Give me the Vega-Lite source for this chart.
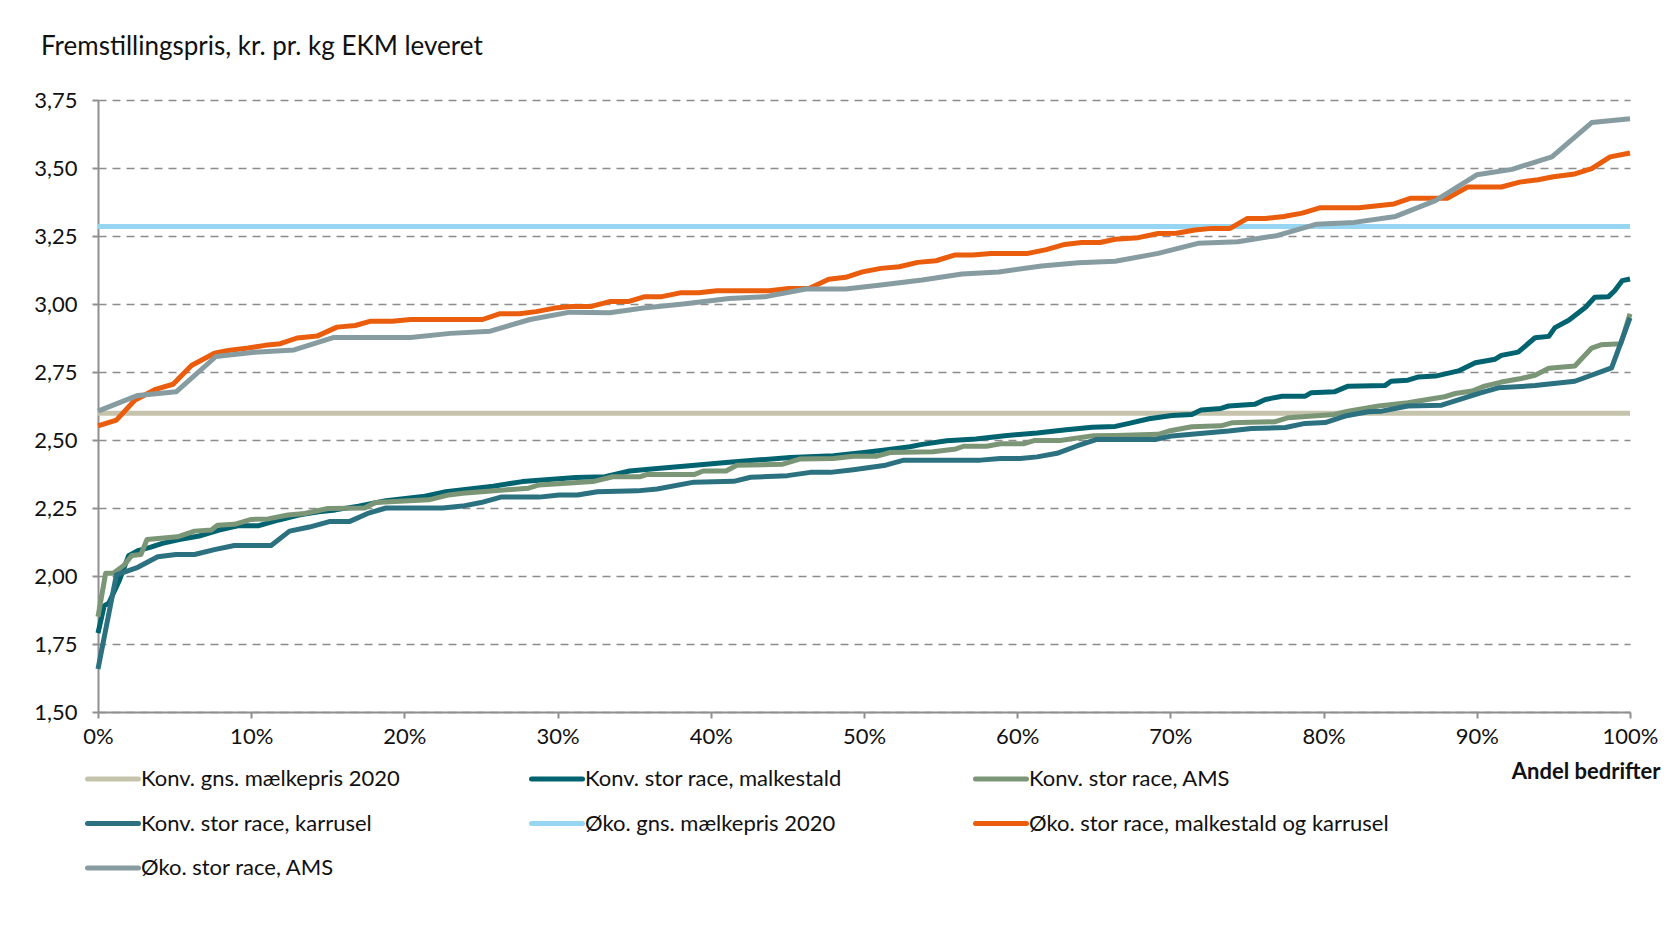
{
  "$schema": "https://vega.github.io/schema/vega-lite/v6.json",
  "autosize": {"type": "none"},
  "padding": {"left": 98, "top": 100, "right": 44, "bottom": 226},
  "width": 1532,
  "height": 612,
  "background": "white",
  "title": {
    "text": "Fremstillingspris, kr. pr. kg EKM leveret",
    "anchor": "start",
    "frame": "group",
    "dx": -57,
    "offset": 29,
    "font": "Lato",
    "fontSize": 26,
    "fontWeight": "normal",
    "color": "#111111"
  },
  "config": {
    "view": {"stroke": null},
    "font": "Lato",
    "axis": {
      "labelFont": "Lato",
      "labelFontSize": 22,
      "labelColor": "#111111",
      "domainColor": "#8f8f8f",
      "domainWidth": 2,
      "tickColor": "#8f8f8f",
      "tickWidth": 2,
      "tickSize": 6
    },
    "legend": {
      "labelFont": "Lato",
      "labelFontSize": 22,
      "labelColor": "#111111",
      "labelLimit": 600
    }
  },
  "data": {
    "values": [
      {"s": "Konv. gns. mælkepris 2020", "x": 0, "y": 2.598},
      {"s": "Konv. gns. mælkepris 2020", "x": 100, "y": 2.598},

      {"s": "Konv. stor race, malkestald", "x": 0, "y": 1.79},
      {"s": "Konv. stor race, malkestald", "x": 0.4, "y": 1.89},
      {"s": "Konv. stor race, malkestald", "x": 0.7, "y": 1.9},
      {"s": "Konv. stor race, malkestald", "x": 1.4, "y": 1.985},
      {"s": "Konv. stor race, malkestald", "x": 2.0, "y": 2.075},
      {"s": "Konv. stor race, malkestald", "x": 2.6, "y": 2.093},
      {"s": "Konv. stor race, malkestald", "x": 3.4, "y": 2.105},
      {"s": "Konv. stor race, malkestald", "x": 4.2, "y": 2.12},
      {"s": "Konv. stor race, malkestald", "x": 5.3, "y": 2.134},
      {"s": "Konv. stor race, malkestald", "x": 6.6, "y": 2.147},
      {"s": "Konv. stor race, malkestald", "x": 7.9, "y": 2.169},
      {"s": "Konv. stor race, malkestald", "x": 9.2, "y": 2.185},
      {"s": "Konv. stor race, malkestald", "x": 10.5, "y": 2.185},
      {"s": "Konv. stor race, malkestald", "x": 11.8, "y": 2.206},
      {"s": "Konv. stor race, malkestald", "x": 13.1, "y": 2.224},
      {"s": "Konv. stor race, malkestald", "x": 14.4, "y": 2.236},
      {"s": "Konv. stor race, malkestald", "x": 15.5, "y": 2.243},
      {"s": "Konv. stor race, malkestald", "x": 17.0, "y": 2.257},
      {"s": "Konv. stor race, malkestald", "x": 18.8, "y": 2.277},
      {"s": "Konv. stor race, malkestald", "x": 21.2, "y": 2.292},
      {"s": "Konv. stor race, malkestald", "x": 22.7, "y": 2.31},
      {"s": "Konv. stor race, malkestald", "x": 25.8, "y": 2.33},
      {"s": "Konv. stor race, malkestald", "x": 27.7, "y": 2.347},
      {"s": "Konv. stor race, malkestald", "x": 31.2, "y": 2.362},
      {"s": "Konv. stor race, malkestald", "x": 33.1, "y": 2.365},
      {"s": "Konv. stor race, malkestald", "x": 34.7, "y": 2.386},
      {"s": "Konv. stor race, malkestald", "x": 36.5, "y": 2.395},
      {"s": "Konv. stor race, malkestald", "x": 38.6, "y": 2.405},
      {"s": "Konv. stor race, malkestald", "x": 41.0, "y": 2.417},
      {"s": "Konv. stor race, malkestald", "x": 43.2, "y": 2.427},
      {"s": "Konv. stor race, malkestald", "x": 45.2, "y": 2.436},
      {"s": "Konv. stor race, malkestald", "x": 48.0, "y": 2.442},
      {"s": "Konv. stor race, malkestald", "x": 50.0, "y": 2.454},
      {"s": "Konv. stor race, malkestald", "x": 51.5, "y": 2.464},
      {"s": "Konv. stor race, malkestald", "x": 53.0, "y": 2.475},
      {"s": "Konv. stor race, malkestald", "x": 53.7, "y": 2.483},
      {"s": "Konv. stor race, malkestald", "x": 55.4, "y": 2.497},
      {"s": "Konv. stor race, malkestald", "x": 57.3, "y": 2.504},
      {"s": "Konv. stor race, malkestald", "x": 59.2, "y": 2.516},
      {"s": "Konv. stor race, malkestald", "x": 61.3, "y": 2.526},
      {"s": "Konv. stor race, malkestald", "x": 63.2, "y": 2.538},
      {"s": "Konv. stor race, malkestald", "x": 64.9, "y": 2.547},
      {"s": "Konv. stor race, malkestald", "x": 66.4, "y": 2.55},
      {"s": "Konv. stor race, malkestald", "x": 67.3, "y": 2.561},
      {"s": "Konv. stor race, malkestald", "x": 68.6, "y": 2.578},
      {"s": "Konv. stor race, malkestald", "x": 70.1, "y": 2.59},
      {"s": "Konv. stor race, malkestald", "x": 71.4, "y": 2.594},
      {"s": "Konv. stor race, malkestald", "x": 72.0, "y": 2.61},
      {"s": "Konv. stor race, malkestald", "x": 73.3, "y": 2.616},
      {"s": "Konv. stor race, malkestald", "x": 73.8, "y": 2.625},
      {"s": "Konv. stor race, malkestald", "x": 75.5, "y": 2.631},
      {"s": "Konv. stor race, malkestald", "x": 76.2, "y": 2.649},
      {"s": "Konv. stor race, malkestald", "x": 77.3, "y": 2.661},
      {"s": "Konv. stor race, malkestald", "x": 78.8, "y": 2.661},
      {"s": "Konv. stor race, malkestald", "x": 79.2, "y": 2.674},
      {"s": "Konv. stor race, malkestald", "x": 80.7, "y": 2.677},
      {"s": "Konv. stor race, malkestald", "x": 81.6, "y": 2.698},
      {"s": "Konv. stor race, malkestald", "x": 84.0, "y": 2.7},
      {"s": "Konv. stor race, malkestald", "x": 84.4, "y": 2.716},
      {"s": "Konv. stor race, malkestald", "x": 85.5, "y": 2.72},
      {"s": "Konv. stor race, malkestald", "x": 86.2, "y": 2.732},
      {"s": "Konv. stor race, malkestald", "x": 87.3, "y": 2.735},
      {"s": "Konv. stor race, malkestald", "x": 88.8, "y": 2.754},
      {"s": "Konv. stor race, malkestald", "x": 89.9, "y": 2.784},
      {"s": "Konv. stor race, malkestald", "x": 91.2, "y": 2.797},
      {"s": "Konv. stor race, malkestald", "x": 91.6, "y": 2.811},
      {"s": "Konv. stor race, malkestald", "x": 92.7, "y": 2.823},
      {"s": "Konv. stor race, malkestald", "x": 93.8, "y": 2.876},
      {"s": "Konv. stor race, malkestald", "x": 94.7, "y": 2.881},
      {"s": "Konv. stor race, malkestald", "x": 95.1, "y": 2.913},
      {"s": "Konv. stor race, malkestald", "x": 96.0, "y": 2.94},
      {"s": "Konv. stor race, malkestald", "x": 97.1, "y": 2.988},
      {"s": "Konv. stor race, malkestald", "x": 97.7, "y": 3.025},
      {"s": "Konv. stor race, malkestald", "x": 98.6, "y": 3.027},
      {"s": "Konv. stor race, malkestald", "x": 99.0, "y": 3.049},
      {"s": "Konv. stor race, malkestald", "x": 99.5, "y": 3.086},
      {"s": "Konv. stor race, malkestald", "x": 100, "y": 3.092},

      {"s": "Konv. stor race, AMS", "x": 0, "y": 1.85},
      {"s": "Konv. stor race, AMS", "x": 0.5, "y": 2.01},
      {"s": "Konv. stor race, AMS", "x": 1.0, "y": 2.01},
      {"s": "Konv. stor race, AMS", "x": 1.7, "y": 2.04},
      {"s": "Konv. stor race, AMS", "x": 2.2, "y": 2.075},
      {"s": "Konv. stor race, AMS", "x": 2.8, "y": 2.079},
      {"s": "Konv. stor race, AMS", "x": 3.2, "y": 2.134},
      {"s": "Konv. stor race, AMS", "x": 5.2, "y": 2.144},
      {"s": "Konv. stor race, AMS", "x": 6.3, "y": 2.165},
      {"s": "Konv. stor race, AMS", "x": 7.4, "y": 2.169},
      {"s": "Konv. stor race, AMS", "x": 7.8, "y": 2.187},
      {"s": "Konv. stor race, AMS", "x": 8.9, "y": 2.19},
      {"s": "Konv. stor race, AMS", "x": 10.0, "y": 2.208},
      {"s": "Konv. stor race, AMS", "x": 11.1, "y": 2.21},
      {"s": "Konv. stor race, AMS", "x": 12.4, "y": 2.224},
      {"s": "Konv. stor race, AMS", "x": 13.5, "y": 2.23},
      {"s": "Konv. stor race, AMS", "x": 15.0, "y": 2.248},
      {"s": "Konv. stor race, AMS", "x": 17.4, "y": 2.25},
      {"s": "Konv. stor race, AMS", "x": 18.1, "y": 2.27},
      {"s": "Konv. stor race, AMS", "x": 21.6, "y": 2.28},
      {"s": "Konv. stor race, AMS", "x": 22.9, "y": 2.298},
      {"s": "Konv. stor race, AMS", "x": 23.8, "y": 2.304},
      {"s": "Konv. stor race, AMS", "x": 28.1, "y": 2.323},
      {"s": "Konv. stor race, AMS", "x": 28.8, "y": 2.335},
      {"s": "Konv. stor race, AMS", "x": 32.3, "y": 2.347},
      {"s": "Konv. stor race, AMS", "x": 33.6, "y": 2.365},
      {"s": "Konv. stor race, AMS", "x": 35.4, "y": 2.365},
      {"s": "Konv. stor race, AMS", "x": 35.8, "y": 2.373},
      {"s": "Konv. stor race, AMS", "x": 38.9, "y": 2.373},
      {"s": "Konv. stor race, AMS", "x": 39.5, "y": 2.386},
      {"s": "Konv. stor race, AMS", "x": 41.0, "y": 2.386},
      {"s": "Konv. stor race, AMS", "x": 41.7, "y": 2.407},
      {"s": "Konv. stor race, AMS", "x": 44.7, "y": 2.411},
      {"s": "Konv. stor race, AMS", "x": 45.8, "y": 2.43},
      {"s": "Konv. stor race, AMS", "x": 48.0, "y": 2.432},
      {"s": "Konv. stor race, AMS", "x": 49.3, "y": 2.44},
      {"s": "Konv. stor race, AMS", "x": 50.8, "y": 2.44},
      {"s": "Konv. stor race, AMS", "x": 51.7, "y": 2.454},
      {"s": "Konv. stor race, AMS", "x": 54.5, "y": 2.457},
      {"s": "Konv. stor race, AMS", "x": 56.0, "y": 2.467},
      {"s": "Konv. stor race, AMS", "x": 56.5, "y": 2.477},
      {"s": "Konv. stor race, AMS", "x": 58.0, "y": 2.477},
      {"s": "Konv. stor race, AMS", "x": 58.9, "y": 2.486},
      {"s": "Konv. stor race, AMS", "x": 60.4, "y": 2.486},
      {"s": "Konv. stor race, AMS", "x": 61.1, "y": 2.498},
      {"s": "Konv. stor race, AMS", "x": 62.8, "y": 2.498},
      {"s": "Konv. stor race, AMS", "x": 65.0, "y": 2.516},
      {"s": "Konv. stor race, AMS", "x": 66.4, "y": 2.517},
      {"s": "Konv. stor race, AMS", "x": 69.2, "y": 2.521},
      {"s": "Konv. stor race, AMS", "x": 69.9, "y": 2.533},
      {"s": "Konv. stor race, AMS", "x": 71.4, "y": 2.549},
      {"s": "Konv. stor race, AMS", "x": 73.3, "y": 2.552},
      {"s": "Konv. stor race, AMS", "x": 74.0, "y": 2.563},
      {"s": "Konv. stor race, AMS", "x": 76.8, "y": 2.567},
      {"s": "Konv. stor race, AMS", "x": 77.7, "y": 2.582},
      {"s": "Konv. stor race, AMS", "x": 80.7, "y": 2.594},
      {"s": "Konv. stor race, AMS", "x": 81.6, "y": 2.606},
      {"s": "Konv. stor race, AMS", "x": 83.6, "y": 2.625},
      {"s": "Konv. stor race, AMS", "x": 85.5, "y": 2.637},
      {"s": "Konv. stor race, AMS", "x": 87.9, "y": 2.659},
      {"s": "Konv. stor race, AMS", "x": 88.6, "y": 2.671},
      {"s": "Konv. stor race, AMS", "x": 89.7, "y": 2.68},
      {"s": "Konv. stor race, AMS", "x": 90.5, "y": 2.698},
      {"s": "Konv. stor race, AMS", "x": 91.6, "y": 2.713},
      {"s": "Konv. stor race, AMS", "x": 92.9, "y": 2.726},
      {"s": "Konv. stor race, AMS", "x": 93.8, "y": 2.738},
      {"s": "Konv. stor race, AMS", "x": 94.7, "y": 2.764},
      {"s": "Konv. stor race, AMS", "x": 96.4, "y": 2.772},
      {"s": "Konv. stor race, AMS", "x": 97.5, "y": 2.838},
      {"s": "Konv. stor race, AMS", "x": 98.1, "y": 2.85},
      {"s": "Konv. stor race, AMS", "x": 99.4, "y": 2.854},
      {"s": "Konv. stor race, AMS", "x": 100, "y": 2.964},

      {"s": "Konv. stor race, karrusel", "x": 0, "y": 1.658},
      {"s": "Konv. stor race, karrusel", "x": 1.2, "y": 2.004},
      {"s": "Konv. stor race, karrusel", "x": 2.6, "y": 2.032},
      {"s": "Konv. stor race, karrusel", "x": 3.9, "y": 2.071},
      {"s": "Konv. stor race, karrusel", "x": 5.1, "y": 2.079},
      {"s": "Konv. stor race, karrusel", "x": 6.3, "y": 2.079},
      {"s": "Konv. stor race, karrusel", "x": 7.6, "y": 2.097},
      {"s": "Konv. stor race, karrusel", "x": 8.9, "y": 2.112},
      {"s": "Konv. stor race, karrusel", "x": 11.3, "y": 2.112},
      {"s": "Konv. stor race, karrusel", "x": 12.5, "y": 2.165},
      {"s": "Konv. stor race, karrusel", "x": 13.8, "y": 2.18},
      {"s": "Konv. stor race, karrusel", "x": 15.1, "y": 2.2},
      {"s": "Konv. stor race, karrusel", "x": 16.4, "y": 2.2},
      {"s": "Konv. stor race, karrusel", "x": 17.6, "y": 2.23},
      {"s": "Konv. stor race, karrusel", "x": 18.8, "y": 2.25},
      {"s": "Konv. stor race, karrusel", "x": 22.5, "y": 2.25},
      {"s": "Konv. stor race, karrusel", "x": 23.8, "y": 2.257},
      {"s": "Konv. stor race, karrusel", "x": 25.0, "y": 2.27},
      {"s": "Konv. stor race, karrusel", "x": 26.3, "y": 2.29},
      {"s": "Konv. stor race, karrusel", "x": 28.8, "y": 2.29},
      {"s": "Konv. stor race, karrusel", "x": 30.1, "y": 2.298},
      {"s": "Konv. stor race, karrusel", "x": 31.3, "y": 2.298},
      {"s": "Konv. stor race, karrusel", "x": 32.6, "y": 2.31},
      {"s": "Konv. stor race, karrusel", "x": 35.2, "y": 2.313},
      {"s": "Konv. stor race, karrusel", "x": 36.5, "y": 2.32},
      {"s": "Konv. stor race, karrusel", "x": 38.9, "y": 2.345},
      {"s": "Konv. stor race, karrusel", "x": 41.5, "y": 2.348},
      {"s": "Konv. stor race, karrusel", "x": 42.6, "y": 2.363},
      {"s": "Konv. stor race, karrusel", "x": 45.0, "y": 2.369},
      {"s": "Konv. stor race, karrusel", "x": 46.5, "y": 2.381},
      {"s": "Konv. stor race, karrusel", "x": 47.8, "y": 2.381},
      {"s": "Konv. stor race, karrusel", "x": 49.3, "y": 2.391},
      {"s": "Konv. stor race, karrusel", "x": 51.3, "y": 2.406},
      {"s": "Konv. stor race, karrusel", "x": 52.6, "y": 2.426},
      {"s": "Konv. stor race, karrusel", "x": 57.6, "y": 2.426},
      {"s": "Konv. stor race, karrusel", "x": 58.9, "y": 2.432},
      {"s": "Konv. stor race, karrusel", "x": 60.2, "y": 2.432},
      {"s": "Konv. stor race, karrusel", "x": 61.3, "y": 2.438},
      {"s": "Konv. stor race, karrusel", "x": 62.6, "y": 2.451},
      {"s": "Konv. stor race, karrusel", "x": 63.9, "y": 2.478},
      {"s": "Konv. stor race, karrusel", "x": 65.2, "y": 2.502},
      {"s": "Konv. stor race, karrusel", "x": 69.0, "y": 2.502},
      {"s": "Konv. stor race, karrusel", "x": 70.1, "y": 2.515},
      {"s": "Konv. stor race, karrusel", "x": 72.5, "y": 2.527},
      {"s": "Konv. stor race, karrusel", "x": 73.8, "y": 2.533},
      {"s": "Konv. stor race, karrusel", "x": 75.3, "y": 2.542},
      {"s": "Konv. stor race, karrusel", "x": 77.5, "y": 2.546},
      {"s": "Konv. stor race, karrusel", "x": 78.8, "y": 2.561},
      {"s": "Konv. stor race, karrusel", "x": 80.1, "y": 2.564},
      {"s": "Konv. stor race, karrusel", "x": 81.4, "y": 2.588},
      {"s": "Konv. stor race, karrusel", "x": 82.9, "y": 2.604},
      {"s": "Konv. stor race, karrusel", "x": 83.8, "y": 2.606},
      {"s": "Konv. stor race, karrusel", "x": 85.5, "y": 2.625},
      {"s": "Konv. stor race, karrusel", "x": 87.7, "y": 2.628},
      {"s": "Konv. stor race, karrusel", "x": 89.0, "y": 2.651},
      {"s": "Konv. stor race, karrusel", "x": 90.3, "y": 2.674},
      {"s": "Konv. stor race, karrusel", "x": 91.4, "y": 2.692},
      {"s": "Konv. stor race, karrusel", "x": 93.8, "y": 2.7},
      {"s": "Konv. stor race, karrusel", "x": 96.4, "y": 2.716},
      {"s": "Konv. stor race, karrusel", "x": 98.8, "y": 2.765},
      {"s": "Konv. stor race, karrusel", "x": 100, "y": 2.949},

      {"s": "Øko. gns. mælkepris 2020", "x": 0, "y": 3.285},
      {"s": "Øko. gns. mælkepris 2020", "x": 100, "y": 3.285},

      {"s": "Øko. stor race, malkestald og karrusel", "x": 0, "y": 2.552},
      {"s": "Øko. stor race, malkestald og karrusel", "x": 1.2, "y": 2.573},
      {"s": "Øko. stor race, malkestald og karrusel", "x": 2.4, "y": 2.646},
      {"s": "Øko. stor race, malkestald og karrusel", "x": 3.7, "y": 2.685},
      {"s": "Øko. stor race, malkestald og karrusel", "x": 4.9, "y": 2.705},
      {"s": "Øko. stor race, malkestald og karrusel", "x": 6.1, "y": 2.774},
      {"s": "Øko. stor race, malkestald og karrusel", "x": 7.6, "y": 2.819},
      {"s": "Øko. stor race, malkestald og karrusel", "x": 8.5, "y": 2.829},
      {"s": "Øko. stor race, malkestald og karrusel", "x": 9.8, "y": 2.838},
      {"s": "Øko. stor race, malkestald og karrusel", "x": 10.9, "y": 2.848},
      {"s": "Øko. stor race, malkestald og karrusel", "x": 11.9, "y": 2.854},
      {"s": "Øko. stor race, malkestald og karrusel", "x": 13.0, "y": 2.875},
      {"s": "Øko. stor race, malkestald og karrusel", "x": 14.3, "y": 2.882},
      {"s": "Øko. stor race, malkestald og karrusel", "x": 15.6, "y": 2.915},
      {"s": "Øko. stor race, malkestald og karrusel", "x": 16.8, "y": 2.921},
      {"s": "Øko. stor race, malkestald og karrusel", "x": 17.8, "y": 2.937},
      {"s": "Øko. stor race, malkestald og karrusel", "x": 19.2, "y": 2.937},
      {"s": "Øko. stor race, malkestald og karrusel", "x": 20.4, "y": 2.943},
      {"s": "Øko. stor race, malkestald og karrusel", "x": 25.1, "y": 2.943},
      {"s": "Øko. stor race, malkestald og karrusel", "x": 26.2, "y": 2.964},
      {"s": "Øko. stor race, malkestald og karrusel", "x": 27.5, "y": 2.964},
      {"s": "Øko. stor race, malkestald og karrusel", "x": 28.6, "y": 2.972},
      {"s": "Øko. stor race, malkestald og karrusel", "x": 29.8, "y": 2.985},
      {"s": "Øko. stor race, malkestald og karrusel", "x": 30.9, "y": 2.991},
      {"s": "Øko. stor race, malkestald og karrusel", "x": 32.2, "y": 2.991},
      {"s": "Øko. stor race, malkestald og karrusel", "x": 33.4, "y": 3.009},
      {"s": "Øko. stor race, malkestald og karrusel", "x": 34.6, "y": 3.009},
      {"s": "Øko. stor race, malkestald og karrusel", "x": 35.7, "y": 3.027},
      {"s": "Øko. stor race, malkestald og karrusel", "x": 36.8, "y": 3.027},
      {"s": "Øko. stor race, malkestald og karrusel", "x": 38.0, "y": 3.041},
      {"s": "Øko. stor race, malkestald og karrusel", "x": 39.2, "y": 3.041},
      {"s": "Øko. stor race, malkestald og karrusel", "x": 40.4, "y": 3.049},
      {"s": "Øko. stor race, malkestald og karrusel", "x": 43.8, "y": 3.049},
      {"s": "Øko. stor race, malkestald og karrusel", "x": 45.1, "y": 3.057},
      {"s": "Øko. stor race, malkestald og karrusel", "x": 46.4, "y": 3.057},
      {"s": "Øko. stor race, malkestald og karrusel", "x": 47.7, "y": 3.091},
      {"s": "Øko. stor race, malkestald og karrusel", "x": 48.8, "y": 3.098},
      {"s": "Øko. stor race, malkestald og karrusel", "x": 49.9, "y": 3.118},
      {"s": "Øko. stor race, malkestald og karrusel", "x": 51.1, "y": 3.131},
      {"s": "Øko. stor race, malkestald og karrusel", "x": 52.3, "y": 3.137},
      {"s": "Øko. stor race, malkestald og karrusel", "x": 53.5, "y": 3.153},
      {"s": "Øko. stor race, malkestald og karrusel", "x": 54.7, "y": 3.159},
      {"s": "Øko. stor race, malkestald og karrusel", "x": 55.9, "y": 3.18},
      {"s": "Øko. stor race, malkestald og karrusel", "x": 57.1, "y": 3.18},
      {"s": "Øko. stor race, malkestald og karrusel", "x": 58.3, "y": 3.186},
      {"s": "Øko. stor race, malkestald og karrusel", "x": 60.7, "y": 3.186},
      {"s": "Øko. stor race, malkestald og karrusel", "x": 61.9, "y": 3.2},
      {"s": "Øko. stor race, malkestald og karrusel", "x": 63.1, "y": 3.219},
      {"s": "Øko. stor race, malkestald og karrusel", "x": 64.2, "y": 3.226},
      {"s": "Øko. stor race, malkestald og karrusel", "x": 65.4, "y": 3.226},
      {"s": "Øko. stor race, malkestald og karrusel", "x": 66.4, "y": 3.238},
      {"s": "Øko. stor race, malkestald og karrusel", "x": 67.9, "y": 3.244},
      {"s": "Øko. stor race, malkestald og karrusel", "x": 69.2, "y": 3.259},
      {"s": "Øko. stor race, malkestald og karrusel", "x": 70.4, "y": 3.26},
      {"s": "Øko. stor race, malkestald og karrusel", "x": 71.6, "y": 3.272},
      {"s": "Øko. stor race, malkestald og karrusel", "x": 72.7, "y": 3.278},
      {"s": "Øko. stor race, malkestald og karrusel", "x": 73.9, "y": 3.278},
      {"s": "Øko. stor race, malkestald og karrusel", "x": 75.0, "y": 3.314},
      {"s": "Øko. stor race, malkestald og karrusel", "x": 76.2, "y": 3.314},
      {"s": "Øko. stor race, malkestald og karrusel", "x": 77.4, "y": 3.322},
      {"s": "Øko. stor race, malkestald og karrusel", "x": 78.6, "y": 3.334},
      {"s": "Øko. stor race, malkestald og karrusel", "x": 79.8, "y": 3.354},
      {"s": "Øko. stor race, malkestald og karrusel", "x": 82.3, "y": 3.354},
      {"s": "Øko. stor race, malkestald og karrusel", "x": 84.6, "y": 3.368},
      {"s": "Øko. stor race, malkestald og karrusel", "x": 85.7, "y": 3.389},
      {"s": "Øko. stor race, malkestald og karrusel", "x": 88.1, "y": 3.389},
      {"s": "Øko. stor race, malkestald og karrusel", "x": 89.4, "y": 3.43},
      {"s": "Øko. stor race, malkestald og karrusel", "x": 91.6, "y": 3.43},
      {"s": "Øko. stor race, malkestald og karrusel", "x": 92.8, "y": 3.448},
      {"s": "Øko. stor race, malkestald og karrusel", "x": 94.0, "y": 3.457},
      {"s": "Øko. stor race, malkestald og karrusel", "x": 95.0, "y": 3.468},
      {"s": "Øko. stor race, malkestald og karrusel", "x": 96.4, "y": 3.478},
      {"s": "Øko. stor race, malkestald og karrusel", "x": 97.5, "y": 3.498},
      {"s": "Øko. stor race, malkestald og karrusel", "x": 98.7, "y": 3.541},
      {"s": "Øko. stor race, malkestald og karrusel", "x": 100, "y": 3.555},

      {"s": "Øko. stor race, AMS", "x": 0, "y": 2.606},
      {"s": "Øko. stor race, AMS", "x": 2.6, "y": 2.664},
      {"s": "Øko. stor race, AMS", "x": 5.1, "y": 2.677},
      {"s": "Øko. stor race, AMS", "x": 7.7, "y": 2.807},
      {"s": "Øko. stor race, AMS", "x": 10.2, "y": 2.823},
      {"s": "Øko. stor race, AMS", "x": 12.8, "y": 2.831},
      {"s": "Øko. stor race, AMS", "x": 15.4, "y": 2.877},
      {"s": "Øko. stor race, AMS", "x": 20.4, "y": 2.877},
      {"s": "Øko. stor race, AMS", "x": 23.0, "y": 2.892},
      {"s": "Øko. stor race, AMS", "x": 25.6, "y": 2.9},
      {"s": "Øko. stor race, AMS", "x": 28.2, "y": 2.943},
      {"s": "Øko. stor race, AMS", "x": 30.8, "y": 2.97},
      {"s": "Øko. stor race, AMS", "x": 33.4, "y": 2.968},
      {"s": "Øko. stor race, AMS", "x": 35.6, "y": 2.985},
      {"s": "Øko. stor race, AMS", "x": 38.2, "y": 3.0},
      {"s": "Øko. stor race, AMS", "x": 41.2, "y": 3.02},
      {"s": "Øko. stor race, AMS", "x": 43.6, "y": 3.027},
      {"s": "Øko. stor race, AMS", "x": 46.2, "y": 3.055},
      {"s": "Øko. stor race, AMS", "x": 48.8, "y": 3.055},
      {"s": "Øko. stor race, AMS", "x": 51.1, "y": 3.07},
      {"s": "Øko. stor race, AMS", "x": 53.8, "y": 3.088},
      {"s": "Øko. stor race, AMS", "x": 56.4, "y": 3.11},
      {"s": "Øko. stor race, AMS", "x": 58.8, "y": 3.118},
      {"s": "Øko. stor race, AMS", "x": 61.6, "y": 3.14},
      {"s": "Øko. stor race, AMS", "x": 64.0, "y": 3.152},
      {"s": "Øko. stor race, AMS", "x": 66.4, "y": 3.157},
      {"s": "Øko. stor race, AMS", "x": 69.2, "y": 3.186},
      {"s": "Øko. stor race, AMS", "x": 71.8, "y": 3.223},
      {"s": "Øko. stor race, AMS", "x": 74.4, "y": 3.229},
      {"s": "Øko. stor race, AMS", "x": 77.0, "y": 3.252},
      {"s": "Øko. stor race, AMS", "x": 79.5, "y": 3.293},
      {"s": "Øko. stor race, AMS", "x": 82.0, "y": 3.3},
      {"s": "Øko. stor race, AMS", "x": 84.7, "y": 3.322},
      {"s": "Øko. stor race, AMS", "x": 87.3, "y": 3.38},
      {"s": "Øko. stor race, AMS", "x": 90.0, "y": 3.475},
      {"s": "Øko. stor race, AMS", "x": 92.3, "y": 3.495},
      {"s": "Øko. stor race, AMS", "x": 94.9, "y": 3.541},
      {"s": "Øko. stor race, AMS", "x": 97.5, "y": 3.667},
      {"s": "Øko. stor race, AMS", "x": 100, "y": 3.681}
    ]
  },
  "mark": {"type": "line", "strokeWidth": 5, "strokeJoin": "round", "strokeCap": "butt", "clip": false},
  "encoding": {
    "x": {
      "field": "x",
      "type": "quantitative",
      "scale": {"domain": [0, 100], "nice": false, "zero": false},
      "axis": {
        "values": [0, 10, 20, 30, 40, 50, 60, 70, 80, 90, 100],
        "labelExpr": "datum.value + '%'",
        "grid": false,
        "labelPadding": 8,
        "labelFlush": false,
        "title": "Andel bedrifter",
        "titleFont": "Lato",
        "titleFontSize": 22,
        "titleFontWeight": "bold",
        "titleColor": "#111111",
        "titleAlign": "right",
        "titleAnchor": null,
        "titleBaseline": "middle",
        "titleX": 1562,
        "titleY": 59
      }
    },
    "y": {
      "field": "y",
      "type": "quantitative",
      "scale": {"domain": [1.5, 3.75], "nice": false, "zero": false},
      "axis": {
        "values": [1.5, 1.75, 2.0, 2.25, 2.5, 2.75, 3.0, 3.25, 3.5, 3.75],
        "labelExpr": "replace(format(datum.value, '.2f'), '.', ',')",
        "labelPadding": 15,
        "labelFlush": false,
        "title": null,
        "grid": true,
        "gridColor": "#8c8c8c",
        "gridWidth": 1.6,
        "gridDash": [8, 6]
      }
    },
    "color": {
      "field": "s",
      "type": "nominal",
      "sort": null,
      "scale": {
        "domain": [
          "Konv. gns. mælkepris 2020",
          "Konv. stor race, malkestald",
          "Konv. stor race, AMS",
          "Konv. stor race, karrusel",
          "Øko. gns. mælkepris 2020",
          "Øko. stor race, malkestald og karrusel",
          "Øko. stor race, AMS"
        ],
        "range": ["#C5C3AC", "#00636F", "#7B9676", "#2B7180", "#97D6F3", "#EA5D0C", "#879CA1"]
      },
      "legend": {
        "title": null,
        "orient": "none",
        "legendX": -13,
        "legendY": 651,
        "direction": "horizontal",
        "columns": 3,
        "gridAlign": "all",
        "columnPadding": 19,
        "rowPadding": 5.5,
        "symbolType": "stroke",
        "symbolSize": 2601,
        "symbolStrokeWidth": 5,
        "labelOffset": 0,
        "labelFontSize": 22,
        "labelFont": "Lato",
        "encode": {"symbols": {"update": {"strokeCap": {"value": "round"}}}}
      }
    },
    "order": {"field": "x", "type": "quantitative"}
  }
}
